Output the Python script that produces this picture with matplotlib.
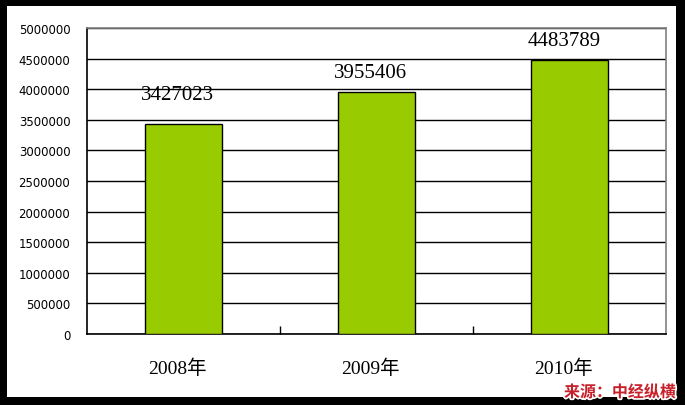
import matplotlib
matplotlib.use('Agg')
import matplotlib.pyplot as plt
import matplotlib.patheffects as pe
from matplotlib.patches import Rectangle

# data
years = ['2008年', '2009年', '2010年']
values = [3427023, 3955406, 4483789]
y_ticks = [0, 500000, 1000000, 1500000, 2000000, 2500000, 3000000, 3500000, 4000000, 4500000, 5000000]
# how far each value label sits above its bar (the first one sits higher)
label_gap = [490000, 310000, 310000]

W, H = 685, 406
fig = plt.figure(figsize=(W / 100, H / 100), dpi=100)
fig.patch.set_facecolor('black')
# white inner panel
fig.patches.append(Rectangle((7 / W, 1 - 398 / H), (676 - 7) / W, (398 - 7) / H,
                             transform=fig.transFigure, facecolor='white', edgecolor='none', zorder=-1))

ax = fig.add_axes([87 / W, 1 - 335 / H, (666 - 87) / W, (335 - 29) / H])
ax.set_zorder(1)
ax.set_facecolor('white')
x = range(len(years))
ax.bar(x, values, width=0.4, color='#99cc00', edgecolor='black', linewidth=1, zorder=3)
ax.set_xlim(-0.5, 2.5)
ax.set_ylim(0, 5000000)
ax.set_yticks(y_ticks)
ax.set_yticklabels([str(v) for v in y_ticks], fontsize=8.5, family='DejaVu Sans')
ax.yaxis.grid(True, color='black', linewidth=1, zorder=0)
ax.tick_params(axis='y', length=0, pad=12)

# category separators as small inward ticks
ax.set_xticks([0.5, 1.5])
ax.set_xticklabels([])
ax.tick_params(axis='x', direction='in', length=6, width=1, color='black')

for i, (lab, v) in enumerate(zip(years, values)):
    ax.text(i - 0.03, -0.11, lab, transform=ax.get_xaxis_transform(), ha='center', va='center',
            fontsize=14, family=['Liberation Serif', 'Noto Sans CJK SC'])
    ax.text(i - 0.03, v + label_gap[i], str(v), ha='center', va='center', fontsize=15,
            family='Liberation Serif', zorder=4)

for s in ['left', 'bottom']:
    ax.spines[s].set_color('black')
    ax.spines[s].set_linewidth(1.2)
for s in ['top', 'right']:
    ax.spines[s].set_color('#808080')
    ax.spines[s].set_linewidth(1.2)

src = fig.text(676 / W, 1 - 393 / H, '来源：中经纵横', ha='right', va='center', fontsize=11.5,
               color='#c8202a', fontweight='bold', family='Noto Sans CJK SC', style='italic')
src.set_path_effects([pe.withStroke(linewidth=2.5, foreground='white')])
src.set_zorder(5)

fig.savefig('out.png', dpi=100, facecolor=fig.get_facecolor())
